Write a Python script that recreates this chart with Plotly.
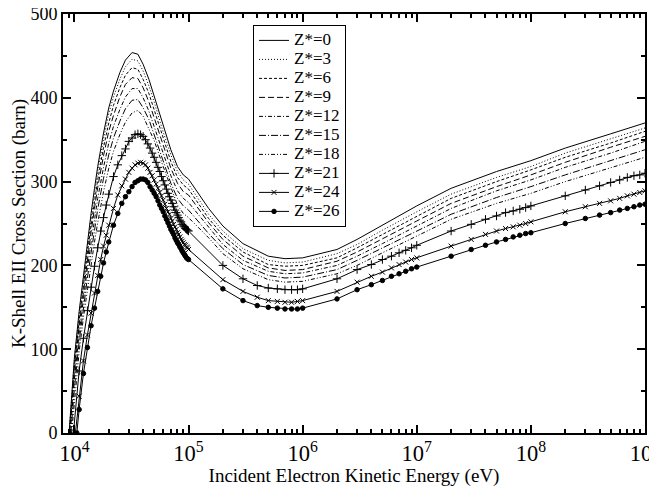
import plotly.graph_objects as go

# ---------------- data ----------------
# energy grid (eV) used for the curves drawn without markers
E_COARSE = [1.0e4, 1.1e4, 1.2e4, 1.3e4, 1.4e4, 1.5e4, 1.6e4, 1.8e4, 2.0e4, 2.2e4,
            2.5e4, 2.8e4, 3.2e4, 3.6e4, 4.0e4, 4.5e4, 5.0e4, 6.0e4, 7.0e4, 8.0e4,
            9.0e4, 1.0e5, 1.5e5, 2.0e5, 3.0e5, 5.0e5, 7.0e5, 1.0e6, 2.0e6, 3.0e6,
            5.0e6, 1.0e7, 2.0e7, 5.0e7, 1.0e8, 2.0e8, 5.0e8, 1.0e9]

# energy grid (eV) used for the curves drawn with markers
E_FINE = [1.1e4, 1.2e4, 1.3e4, 1.4e4, 1.5e4, 1.6e4, 1.7e4, 1.8e4, 1.9e4, 2.0e4,
          2.2e4, 2.4e4, 2.6e4, 2.8e4, 3.0e4, 3.2e4, 3.4e4, 3.6e4, 3.8e4, 4.0e4,
          4.2e4, 4.4e4, 4.6e4, 4.8e4, 5.0e4, 5.2e4, 5.4e4, 5.6e4, 5.8e4, 6.0e4,
          6.2e4, 6.4e4, 6.6e4, 6.8e4, 7.0e4, 7.2e4, 7.4e4, 7.6e4, 7.8e4, 8.0e4,
          8.2e4, 8.4e4, 8.6e4, 8.8e4, 9.0e4, 9.2e4, 9.4e4, 9.6e4, 9.8e4, 1.0e5,
          2e5, 3e5, 4e5, 5e5, 6e5, 7e5, 8e5, 9e5,
          1e6, 2e6, 3e6, 4e6, 5e6, 6e6, 7e6, 8e6, 9e6,
          1e7, 2e7, 3e7, 4e7, 5e7, 6e7, 7e7, 8e7, 9e7,
          1e8, 2e8, 3e8, 4e8, 5e8, 6e8, 7e8, 8e8, 9e8,
          1e9]

# threshold energies (eV), where each cross section is zero
THRESHOLDS = {"0": 8980, "3": 9000, "6": 9050, "9": 9100, "12": 9200, "15": 9300,
              "18": 9450, "21": 9800, "24": 10200, "26": 10500}

Z0 = [90, 145, 190, 228, 262, 292, 318, 358, 388, 408,
      430, 445, 454, 452, 440, 422, 402, 366, 338, 318,
      308, 303, 268, 247, 226, 211, 208, 209, 219, 231,
      248, 271, 292, 312, 325, 340, 357, 370]
Z3 = [88, 142, 186, 223, 257, 286, 312, 351, 381, 401,
      422, 437, 446, 444, 432, 414, 395, 359, 332, 312,
      302, 297, 261, 241, 220, 206, 203, 204, 214, 225,
      242, 264, 285, 305, 318, 334, 351, 364]
Z6 = [80, 134, 178, 215, 248, 277, 302, 341, 370, 391,
      412, 427, 436, 434, 422, 405, 386, 351, 324, 305,
      296, 291, 256, 236, 216, 201, 199, 200, 209, 221,
      237, 259, 280, 300, 314, 329, 346, 360]
Z9 = [73, 128, 171, 208, 240, 268, 293, 331, 360, 379,
      401, 416, 424, 423, 412, 395, 376, 343, 316, 298,
      288, 284, 251, 231, 211, 197, 194, 195, 205, 216,
      232, 253, 274, 294, 308, 323, 341, 354]
Z12 = [64, 119, 161, 197, 227, 255, 280, 317, 346, 366,
       386, 401, 411, 411, 400, 384, 366, 333, 307, 289,
       280, 275, 245, 225, 206, 193, 190, 191, 200, 211,
       226, 247, 268, 289, 302, 317, 334, 348]
Z15 = [53, 109, 150, 185, 215, 243, 267, 304, 332, 352,
       372, 387, 397, 398, 388, 374, 356, 323, 298, 280,
       271, 266, 238, 220, 201, 188, 185, 186, 195, 206,
       221, 241, 261, 281, 294, 308, 325, 338]
Z18 = [38, 97, 138, 172, 201, 228, 251, 288, 316, 336,
       356, 371, 382, 385, 378, 363, 349, 318, 294, 272,
       262, 257, 233, 214, 196, 183, 180, 181, 190, 200,
       215, 235, 255, 274, 286, 300, 317, 329]

Z21 = [74, 113, 146, 174, 199, 221, 241, 257, 272, 285,
       306, 320, 331, 339, 348, 352, 356, 357, 356, 354,
       350, 345, 340, 334, 329, 323, 317, 312, 306, 301,
       296, 291, 286, 282, 278, 274, 270, 266, 263, 260,
       257, 254, 252, 249, 247, 246, 244, 243, 242, 241,
       200, 184, 176, 173, 172, 171, 171, 171,
       172, 184, 195, 201, 207, 211, 215, 218, 221,
       224, 241, 249, 255, 259, 263, 265, 267, 269,
       271, 283, 290, 295, 299, 302, 305, 307, 308,
       310]
Z24 = [44, 86, 117, 143, 167, 188, 207, 223, 236, 248,
       268, 284, 295, 303, 311, 316, 320, 322, 323, 322,
       320, 316, 311, 307, 302, 297, 292, 287, 283, 278,
       273, 268, 264, 261, 256, 253, 249, 246, 243, 239,
       237, 234, 231, 229, 227, 225, 224, 222, 221, 219,
       183, 169, 162, 158, 157, 156, 156, 157,
       158, 169, 180, 187, 192, 197, 201, 204, 207,
       209, 223, 231, 237, 241, 244, 246, 248, 250,
       252, 264, 270, 274, 277, 280, 283, 285, 287,
       289]
Z26 = [28, 71, 102, 128, 149, 169, 187, 203, 216, 228,
       248, 262, 274, 282, 288, 294, 299, 301, 303, 303,
       302, 299, 294, 290, 286, 282, 277, 272, 268, 264,
       259, 255, 251, 247, 243, 240, 237, 233, 230, 227,
       225, 222, 220, 217, 215, 213, 211, 209, 208, 207,
       172, 158, 152, 150, 149, 148, 148, 148,
       149, 160, 171, 177, 182, 187, 190, 193, 196,
       198, 211, 219, 224, 228, 231, 234, 236, 238,
       239, 250, 256, 260, 263, 266, 268, 270, 272,
       273]

PLAIN = [("0", Z0, "solid"), ("3", Z3, "1px,2px"), ("6", Z6, "3px,2px"),
         ("9", Z9, "6px,3px"), ("12", Z12, "4px,2px,1px,2px"),
         ("15", Z15, "7px,2px,1px,2px"), ("18", Z18, "4px,2px,1px,2px,1px,2px")]
MARKED = [("21", Z21, "cross-thin", 6), ("24", Z24, "x-thin", 5), ("26", Z26, "circle", 4.5)]


def label(name):
    return f'<span style="font-size:17px">Z*={name}</span>'


fig = go.Figure()
for name, vals, dash in PLAIN:
    fig.add_trace(go.Scatter(
        x=[THRESHOLDS[name]] + E_COARSE, y=[0] + vals, mode="lines",
        name=label(name), line=dict(color="black", width=1, dash=dash)))
for name, vals, sym, size in MARKED:
    fig.add_trace(go.Scatter(
        x=[THRESHOLDS[name]] + E_FINE, y=[0] + vals, mode="lines+markers",
        name=label(name), line=dict(color="black", width=1),
        marker=dict(symbol=sym, size=size, color="black",
                    line=dict(color="black", width=1))))

serif = "Liberation Serif"
# the page body adds an 8px offset, so the figure is sized to the visible area
fig.update_layout(
    width=649, height=479,
    margin=dict(l=55, r=12, t=6, b=54, autoexpand=False),
    paper_bgcolor="white", plot_bgcolor="white",
    font=dict(family=serif, size=18, color="black"),
    legend=dict(x=0.3265, y=0.974, xanchor="left", yanchor="top",
                bordercolor="black", borderwidth=1, bgcolor="white",
                font=dict(family=serif, size=11, color="black"), tracegroupgap=0),
)
fig.update_xaxes(
    type="log", range=[3.9, 9], dtick=1, exponentformat="power",
    automargin=False, ticklabeloverflow="allow",
    showline=True, linewidth=2, linecolor="black", mirror="ticks",
    ticks="inside", ticklen=8, tickwidth=1.5, tickcolor="black",
    tickfont=dict(family=serif, size=18),
    minor=dict(ticks="inside", ticklen=4, dtick="D1", tickcolor="black", showgrid=False),
    showgrid=False, zeroline=False,
    title=dict(text="Incident Electron Kinetic Energy (eV)",
               font=dict(family=serif, size=19), standoff=0),
)
fig.update_yaxes(
    range=[0, 500], dtick=100, automargin=False, ticklabeloverflow="allow",
    showline=True, linewidth=2, linecolor="black", mirror="ticks",
    ticks="inside", ticklen=8, tickwidth=1.5, tickcolor="black",
    tickfont=dict(family=serif, size=18),
    minor=dict(ticks="inside", ticklen=4, dtick=50, tickcolor="black", showgrid=False),
    showgrid=False, zeroline=False,
    title=dict(text="K-Shell EII Cross Section (barn)",
               font=dict(family=serif, size=19), standoff=4),
)
fig.write_html("out.html")
